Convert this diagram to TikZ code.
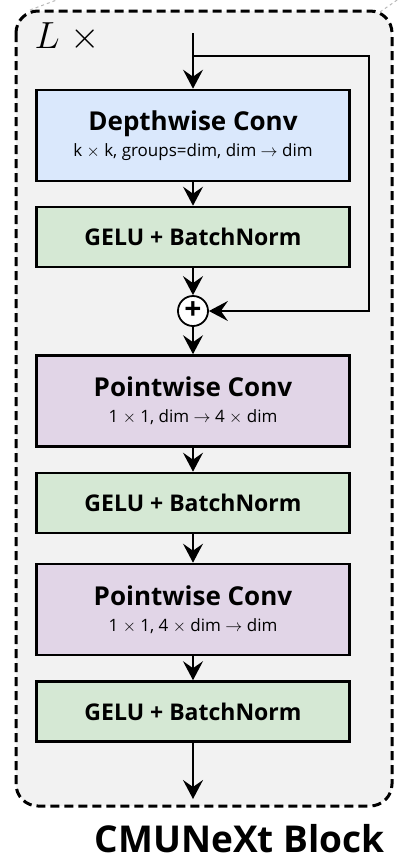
\RequirePackage{fix-cm}
\documentclass[tikz,border=0pt]{standalone}
\usepackage{fontspec}
\setsansfont{Open Sans}
\usetikzlibrary{arrows.meta}
\definecolor{cmuBlue}{HTML}{DAE8FC}
\definecolor{cmuGreen}{HTML}{D5E8D4}
\definecolor{cmuPurple}{HTML}{E1D5E7}
\definecolor{cmuGray}{HTML}{F2F2F2}

\begin{document}
\begin{tikzpicture}[
    x=1pt, y=-1pt,
    every node/.style={font=\sffamily},
    block/.style={draw, line width=2.6pt, minimum width=313pt, inner sep=0pt, align=center},
    convbox/.style={block, minimum height=91pt, font=\sffamily\fontsize{17}{26}\selectfont},
    normbox/.style={block, minimum height=60pt, fill=cmuGreen,
      font=\sffamily\bfseries\fontsize{23}{24}\selectfont},
    flow/.style={line width=1.8pt, -{Stealth[length=19pt,width=20pt,inset=7pt]}},
  ]
  \useasboundingbox (0,0) rectangle (414,865);

  % faint zoom lines from the parent figure
  \draw[gray!55, dashed, line width=1pt] (30,10) -- (62,-2);
  \draw[gray!55, dashed, line width=1pt] (380,12) -- (400,-2);

  % the repeated block
  \draw[line width=3pt, dash pattern=on 9pt off 5pt, rounded corners=22pt, fill=cmuGray]
    (16,11) rectangle (392,806);
  \node[anchor=west, font=\fontsize{32}{32}\selectfont] (rep) at (31,37) {\scalebox{1.18}{$L\;\times$}};

  % layers, top to bottom
  \node[convbox, fill=cmuBlue] (dw) at (193,135.5)
    {{\bfseries\fontsize{26}{26}\selectfont Depthwise Conv}\\
     k $\times$ k, groups=dim, dim $\rightarrow$ dim};
  \node[normbox] (gelu1) at (193,237) {GELU + BatchNorm};
  \node[circle, draw, line width=1.8pt, fill=white, minimum size=30pt, inner sep=0pt,
    font=\sffamily\bfseries\fontsize{30}{30}\selectfont] (add) at (193,311) {+};
  \node[convbox, fill=cmuPurple] (pw1) at (193,401)
    {{\bfseries\fontsize{26}{26}\selectfont Pointwise Conv}\\
     1 $\times$ 1, dim $\rightarrow$ 4 $\times$ dim};
  \node[normbox] (gelu2) at (193,503) {GELU + BatchNorm};
  \node[convbox, fill=cmuPurple] (pw2) at (193,609.5)
    {{\bfseries\fontsize{26}{26}\selectfont Pointwise Conv}\\
     1 $\times$ 1, 4 $\times$ dim $\rightarrow$ dim};
  \node[normbox] (gelu3) at (193,711.5) {GELU + BatchNorm};

  \coordinate (in) at (193,33);
  \coordinate (split) at (193,56);
  \coordinate (turn) at (369,56);
  \coordinate (out) at (193,799);

  % main path
  \draw[flow] (in) -- (dw);
  \draw[flow] (dw) -- (gelu1);
  \draw[flow] (gelu1) -- (add);
  \draw[flow] (add) -- (pw1);
  \draw[flow] (pw1) -- (gelu2);
  \draw[flow] (gelu2) -- (pw2);
  \draw[flow] (pw2) -- (gelu3);
  \draw[flow] (gelu3) -- (out);

  % residual
  \draw[flow, line width=1.5pt] (split) -- (turn) |- (add);

  \node[anchor=east, font=\sffamily\bfseries\fontsize{37}{37}\selectfont] (title) at (388,839) {CMUNeXt Block};
\end{tikzpicture}
\end{document}
